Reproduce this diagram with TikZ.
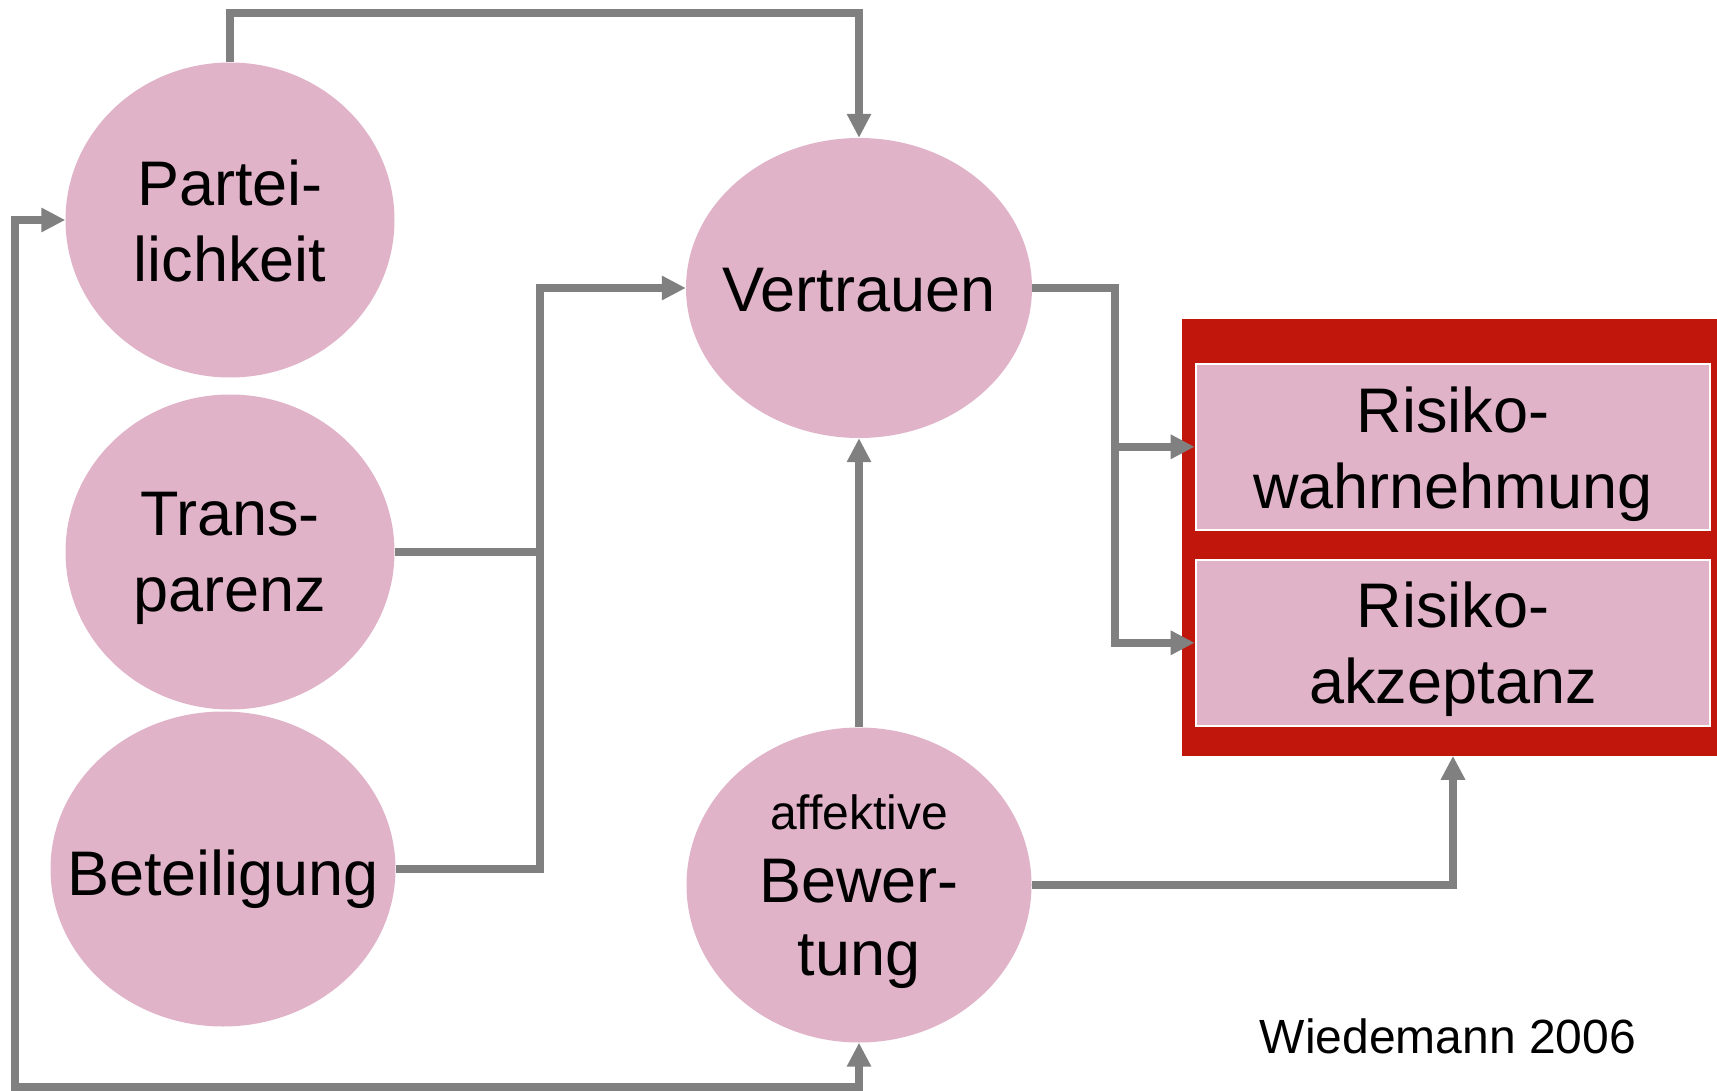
\documentclass[tikz,border=0pt]{standalone}
\usepackage{fontspec}
\setmainfont{Liberation Sans}
\usetikzlibrary{shapes.geometric,arrows.meta}
\definecolor{pinkfill}{RGB}{224,179,200}
\definecolor{boxred}{RGB}{192,22,12}
\definecolor{linegray}{RGB}{128,128,128}
\begin{document}
\begin{tikzpicture}[x=1pt,y=-1pt,
  ell/.style={ellipse, fill=pinkfill, inner sep=0pt},
  lab/.style={inner sep=0pt, align=center, font=\fontsize{63}{76}\selectfont},
  rbox/.style={rectangle, draw=white, line width=2pt, fill=pinkfill, minimum width=514.7pt, minimum height=166.5pt, inner sep=0pt},
  conn/.style={draw=linegray, line width=7.5pt},
  arr/.style={-{Triangle[length=24pt,width=23pt]}},
  darr/.style={{Triangle[length=24pt,width=23pt]}-{Triangle[length=24pt,width=23pt]}}]
\useasboundingbox (0,0) rectangle (1717,1091);
\fill[white] (0,0) rectangle (1717,1091);

\node[ell, minimum width=329pt, minimum height=315pt,
  label={[lab,yshift=-1pt]center:{Partei-\\lichkeit}}] (P) at (230,220) {};
\node[ell, minimum width=329pt, minimum height=315pt,
  label={[lab,yshift=-6pt]center:{Trans-\\parenz}}] (T) at (230,552) {};
\node[ell, minimum width=345pt, minimum height=315pt,
  label={[lab,yshift=-10pt]center:{Beteiligung}}] (B) at (223,869) {};
\node[ell, minimum width=346pt, minimum height=300pt,
  label={[lab,yshift=-2pt]center:{Vertrauen}}] (V) at (859,288) {};
\node[ell, minimum width=345pt, minimum height=315pt,
  label={[lab,font=\fontsize{63}{73}\selectfont,yshift=-7pt]center:{{\fontsize{48}{73}\selectfont affektive}\\Bewer-\\tung}}] (A) at (859,885) {};

\node[rectangle, fill=boxred, minimum width=535.5pt, minimum height=437pt, inner sep=0pt] (Red) at (1449.25,537.1) {};
\node[rbox, label={[lab,yshift=-7pt]center:{Risiko-\\wahrnehmung}}] (R1) at (1453,446.8) {};
\node[rbox, label={[lab,yshift=-6pt]center:{Risiko-\\akzeptanz}}] (R2) at (1453,642.8) {};

\node[anchor=base, font=\fontsize{48}{58}\selectfont] (W) at (1448,1053.5) {Wiedemann 2006};

\coordinate (top) at (500,13);
\coordinate (jx) at (540,0);
\coordinate (kx) at (1115,0);
\coordinate (bl) at (15,1087);
\coordinate (rb) at (1453,0);

\draw[conn,arr] (P.north) |- (top) -| (V.north);
\draw[conn] (T.east) -- (T.east -| jx);
\draw[conn,arr] (B.east) -- (B.east -| jx) |- (V.west);
\draw[conn,arr] (V.east) -- (V.east -| kx) |- (R1.west);
\draw[conn,arr] (V.east -| kx) |- (R2.west);
\draw[conn,arr] (A.north) -- (V.south);
\draw[conn,arr] (A.east) -| (Red.south -| rb);
\draw[conn,darr] (P.west) -| (bl) -| (A.south);
\end{tikzpicture}
\end{document}
